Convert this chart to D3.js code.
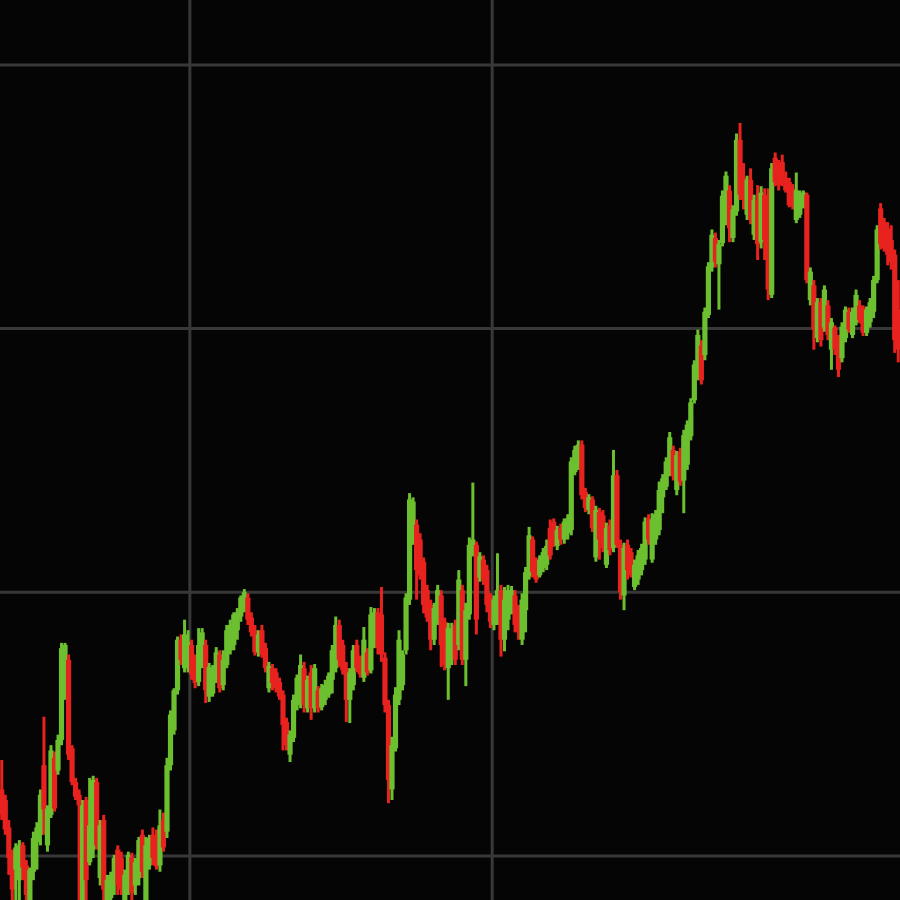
<!DOCTYPE html>
<html>
<head>
<meta charset="utf-8">
<script src="https://cdn.jsdelivr.net/npm/d3@7"></script>
<style>
  html, body { margin: 0; padding: 0; background: #050505; }
  svg { display: block; }
</style>
</head>
<body>
<svg id="chart" width="900" height="900"></svg>
<script>
// ---- Data (OHLC) ----
const opens = [56.3,55.3,52.7,50.1,48.7,47.7,51.0,49.1,45.8,48.5,51.3,52.0,58.6,51.0,53.9,59.3,58.1,61.0,65.4,68.6,
60.2,57.0,55.8,45.8,55.3,49.4,50.6,57.0,47.9,53.4,45.3,46.0,47.2,50.6,49.8,45.8,47.0,49.9,47.2,47.9,
52.0,45.8,49.1,52.0,51.5,49.1,53.4,52.3,58.6,61.9,65.7,70.5,67.8,67.8,70.0,68.4,66.5,68.1,70.0,65.1,
65.4,66.7,69.1,66.2,68.1,69.5,70.0,71.4,72.7,73.6,74.5,72.6,71.4,69.3,71.4,69.7,65.9,67.8,67.4,66.5,
65.3,62.7,59.6,61.2,64.3,64.8,67.8,64.0,67.4,64.0,65.7,64.1,64.8,65.3,66.7,67.8,71.9,70.0,67.8,64.8,
66.2,70.0,68.4,66.9,69.3,67.6,70.0,73.1,72.9,68.8,64.3,56.3,60.2,64.8,66.2,69.5,74.3,80.0,81.4,80.0,
77.9,75.2,73.8,70.5,72.4,74.7,72.2,67.8,68.6,71.9,70.0,75.2,68.6,72.9,78.8,79.5,76.4,78.1,77.1,74.5,
71.9,72.4,75.2,70.5,72.4,73.1,74.7,73.3,70.5,73.3,76.5,80.0,77.9,76.6,77.3,77.6,81.1,81.7,79.4,81.1,
80.0,80.6,80.9,86.4,87.4,89.0,84.5,82.8,83.8,78.3,82.6,82.3,77.6,81.4,79.2,86.1,79.5,74.7,79.5,78.8,
75.5,76.2,77.1,78.1,82.0,78.1,80.0,80.9,84.0,85.0,86.4,88.5,84.7,88.3,85.6,87.1,89.8,93.2,95.6,98.4,
97.5,101.3,105.8,108.6,106.1,108.1,110.1,113.1,108.6,111.1,117.9,114.3,110.8,114.1,108.9,112.2,108.2,112.7,112.2,103.2,
116.2,115.5,115.8,114.3,113.9,113.3,110.3,110.8,111.7,112.7,102.7,104.1,99.1,102.5,100.1,102.2,98.0,100.1,98.9,97.2,
99.1,101.6,99.4,100.6,102.2,102.0,99.6,100.6,101.6,104.6,111.4,110.1,109.5,108.4,107.0,101.8];

const highs = [59.1,55.8,53.4,50.6,51.2,51.5,51.3,49.6,48.9,52.3,53.2,56.3,63.2,54.8,60.5,59.9,61.5,70.2,70.2,69.1,
60.5,57.4,56.3,55.3,55.6,57.4,57.6,57.4,53.4,53.9,48.2,48.5,50.1,51.0,50.4,48.7,50.4,50.3,49.8,51.8,
52.5,51.8,52.0,52.7,52.5,54.4,54.1,59.3,63.8,65.9,70.8,71.0,72.4,71.4,70.5,69.1,71.6,71.6,70.5,68.3,
68.1,69.8,69.5,69.5,71.9,72.4,73.1,73.5,74.7,75.3,74.9,73.1,71.9,71.4,71.9,70.2,68.4,68.2,67.8,66.9,
65.7,63.1,61.9,65.3,67.2,69.1,68.4,67.1,68.1,68.2,66.1,66.3,66.7,67.4,70.0,72.7,72.4,70.5,68.4,67.8,
70.0,70.5,69.0,71.7,69.7,73.6,73.5,73.5,75.5,69.3,64.8,61.3,66.0,71.4,69.5,74.9,84.4,84.0,81.9,80.6,
78.3,75.7,74.3,74.0,75.7,75.2,72.6,72.1,72.1,72.4,77.1,75.7,74.0,80.2,85.4,79.8,78.8,78.5,77.6,74.9,
74.7,78.7,75.7,75.5,75.7,75.6,75.2,73.8,74.9,77.4,81.2,80.3,78.3,78.5,79.2,80.0,81.9,82.0,81.3,81.5,
82.0,82.4,87.8,88.9,89.4,89.4,84.9,84.3,84.1,83.2,83.0,82.8,81.6,81.9,88.5,86.6,80.0,79.7,80.0,79.2,
78.1,79.0,79.6,82.1,82.4,82.5,82.8,85.5,86.2,87.8,90.2,88.9,88.4,88.7,90.4,91.3,93.4,97.0,99.9,98.9,
102.0,106.3,109.4,109.1,108.4,113.1,114.9,113.6,111.7,118.5,119.5,115.7,114.5,115.2,112.7,113.6,113.5,113.3,113.3,115.7,
116.7,116.0,116.5,114.9,114.3,113.7,114.8,113.1,113.1,112.9,105.8,104.6,102.9,102.9,104.1,102.7,101.0,100.3,99.4,100.6,
102.1,102.0,102.0,103.7,102.7,102.2,102.1,102.9,105.0,109.8,111.9,110.5,110.1,109.8,107.5,104.6];

const lows = [53.4,52.0,48.2,45.3,45.3,45.3,47.7,45.3,44.9,47.7,48.7,51.0,52.0,50.4,53.6,54.2,57.7,60.5,64.8,59.1,
56.7,55.3,45.8,44.9,44.9,49.1,49.8,50.6,47.2,45.3,44.9,45.3,46.3,46.3,46.3,45.3,46.3,45.8,46.3,47.2,
47.9,45.3,48.7,49.1,48.7,48.5,50.4,51.7,58.1,61.5,65.3,68.1,67.4,67.4,66.7,65.9,66.1,67.8,64.5,64.6,
65.1,66.4,65.5,65.7,67.8,69.1,69.5,70.5,72.2,73.1,71.9,70.8,69.0,68.9,68.8,67.4,65.5,65.7,65.5,64.8,
60.0,60.0,58.9,60.8,63.8,64.0,63.6,63.6,62.9,63.6,63.6,63.8,64.3,65.0,65.4,67.4,67.9,67.2,62.7,62.6,
65.7,67.4,66.9,66.5,67.1,67.3,69.7,69.1,68.4,63.6,55.0,55.3,59.9,64.3,65.7,69.1,73.8,79.5,74.3,76.2,
73.0,72.2,69.5,70.0,71.9,67.9,67.6,64.8,68.1,68.1,69.5,68.1,66.1,72.4,78.4,71.0,76.0,75.7,73.1,71.6,
71.4,71.9,68.9,69.4,71.4,72.9,71.2,70.5,70.0,71.2,76.2,76.4,75.9,76.4,76.9,77.1,78.1,79.3,79.0,79.5,
79.6,80.0,80.4,86.1,86.6,83.8,82.6,82.4,80.7,77.9,78.1,78.8,77.3,78.5,78.8,79.2,74.3,73.3,76.2,76.4,
75.2,75.7,76.6,77.6,79.5,77.8,79.5,80.4,82.5,84.7,86.0,85.6,84.2,85.1,82.5,86.6,89.4,92.9,95.1,94.7,
97.0,101.0,105.4,105.8,101.8,107.8,109.8,108.2,108.2,110.7,112.2,111.3,110.3,109.9,108.4,106.5,107.6,106.5,102.7,102.9,
113.5,113.1,113.5,112.9,111.5,111.3,110.0,110.5,111.4,104.3,102.2,98.0,98.7,98.3,99.7,98.9,96.1,97.5,95.4,96.8,
98.7,99.6,99.1,100.3,100.5,99.3,99.3,100.1,101.0,104.3,107.5,107.3,106.0,105.6,97.7,96.8];

const closes = [53.9,52.5,49.8,46.8,50.8,51.0,48.9,46.3,48.7,51.7,52.7,55.8,54.4,54.5,60.0,54.5,61.0,69.7,70.0,59.6,
57.0,55.6,54.8,54.8,47.7,52.9,57.2,51.0,52.9,46.8,47.7,48.2,49.8,47.2,46.8,48.2,50.1,46.5,49.4,51.5,
48.5,51.0,51.7,49.8,49.0,52.9,50.8,58.6,63.4,65.7,70.5,68.6,71.0,70.3,67.2,66.4,70.0,71.2,65.7,67.9,
67.6,69.3,65.9,68.6,71.4,71.9,72.9,73.1,74.5,75.0,72.4,71.2,69.3,71.0,69.1,67.8,68.0,66.4,65.9,65.1,
62.4,60.5,61.5,64.8,66.9,68.1,64.3,66.7,64.0,67.8,64.0,65.9,66.2,67.1,69.5,71.9,68.6,67.6,64.8,67.4,
69.5,67.8,67.2,70.5,67.4,72.9,73.1,69.7,69.1,64.3,57.2,60.5,65.3,70.5,69.1,74.5,83.8,83.6,77.1,76.6,
73.8,72.6,70.5,73.5,75.2,70.0,68.1,71.6,71.4,68.6,76.2,68.6,73.3,79.5,80.0,72.4,78.4,76.2,73.8,72.2,
74.3,75.2,70.5,74.3,75.2,75.2,71.9,71.2,74.3,76.9,80.4,76.9,76.2,78.1,78.8,79.4,78.5,79.8,80.9,80.0,
81.7,82.0,87.4,88.5,89.0,84.2,83.0,84.0,81.1,82.8,80.0,79.2,81.1,79.0,86.1,79.5,75.0,79.2,77.1,76.6,
77.6,78.5,79.2,81.7,80.0,81.9,82.4,84.7,85.8,87.4,89.7,86.0,88.0,85.5,89.9,90.9,93.0,96.6,99.4,95.1,
101.6,105.9,108.9,106.3,108.0,112.6,114.5,109.5,111.3,117.9,112.7,112.2,114.1,110.3,112.2,108.0,112.9,108.4,103.7,115.2,
113.9,113.6,113.9,113.1,111.7,111.6,113.1,112.7,112.9,104.6,105.4,99.9,102.5,98.9,103.7,99.4,100.6,98.0,96.1,100.2,
101.8,99.9,101.6,103.2,100.8,99.6,101.8,102.5,104.6,109.4,108.0,107.6,107.0,106.3,98.9,98.0];

// Horizontal grid at these price levels; vertical grid at the start of these candles
const priceTicks = [50, 75, 100, 125];
const periodStarts = [54, 140];

// ---- Chart ----
const W = 900, H = 900;
const svg = d3.select("#chart");
svg.append("rect").attr("width", W).attr("height", H).attr("fill", "#050505");

const candles = opens.map((o, i) => ({ i, o, h: highs[i], l: lows[i], c: closes[i] }));

const x = d3.scaleBand().domain(d3.range(candles.length)).range([0, W]).padding(0);
const y = d3.scaleLinear().domain([45.82, 131.16]).range([H, 0]);

const gridColor = "#383838";
const grid = svg.append("g");
grid.selectAll("line.h").data(priceTicks).join("line")
  .attr("class", "h")
  .attr("x1", 0).attr("x2", W)
  .attr("y1", d => y(d)).attr("y2", d => y(d))
  .attr("stroke", gridColor).attr("stroke-width", 3);
grid.selectAll("line.v").data(periodStarts).join("line")
  .attr("class", "v")
  .attr("y1", 0).attr("y2", H)
  .attr("x1", d => x(d)).attr("x2", d => x(d))
  .attr("stroke", gridColor).attr("stroke-width", 3);

const up = "#6cc030", down = "#e8221e";
const bw = x.bandwidth();
const bodyW = 5.2, wickW = 3;

const g = svg.append("g");
const cg = g.selectAll("g.candle").data(candles).join("g").attr("class", "candle");
cg.append("rect")
  .attr("x", d => x(d.i) + bw / 2 - wickW / 2)
  .attr("width", wickW)
  .attr("y", d => y(d.h))
  .attr("height", d => Math.max(1, y(d.l) - y(d.h)))
  .attr("fill", d => d.c >= d.o ? up : down);
cg.append("rect")
  .attr("x", d => x(d.i) + bw / 2 - bodyW / 2)
  .attr("width", bodyW)
  .attr("y", d => y(Math.max(d.o, d.c)))
  .attr("height", d => Math.max(1.5, Math.abs(y(d.o) - y(d.c))))
  .attr("fill", d => d.c >= d.o ? up : down);
</script>
</body>
</html>
